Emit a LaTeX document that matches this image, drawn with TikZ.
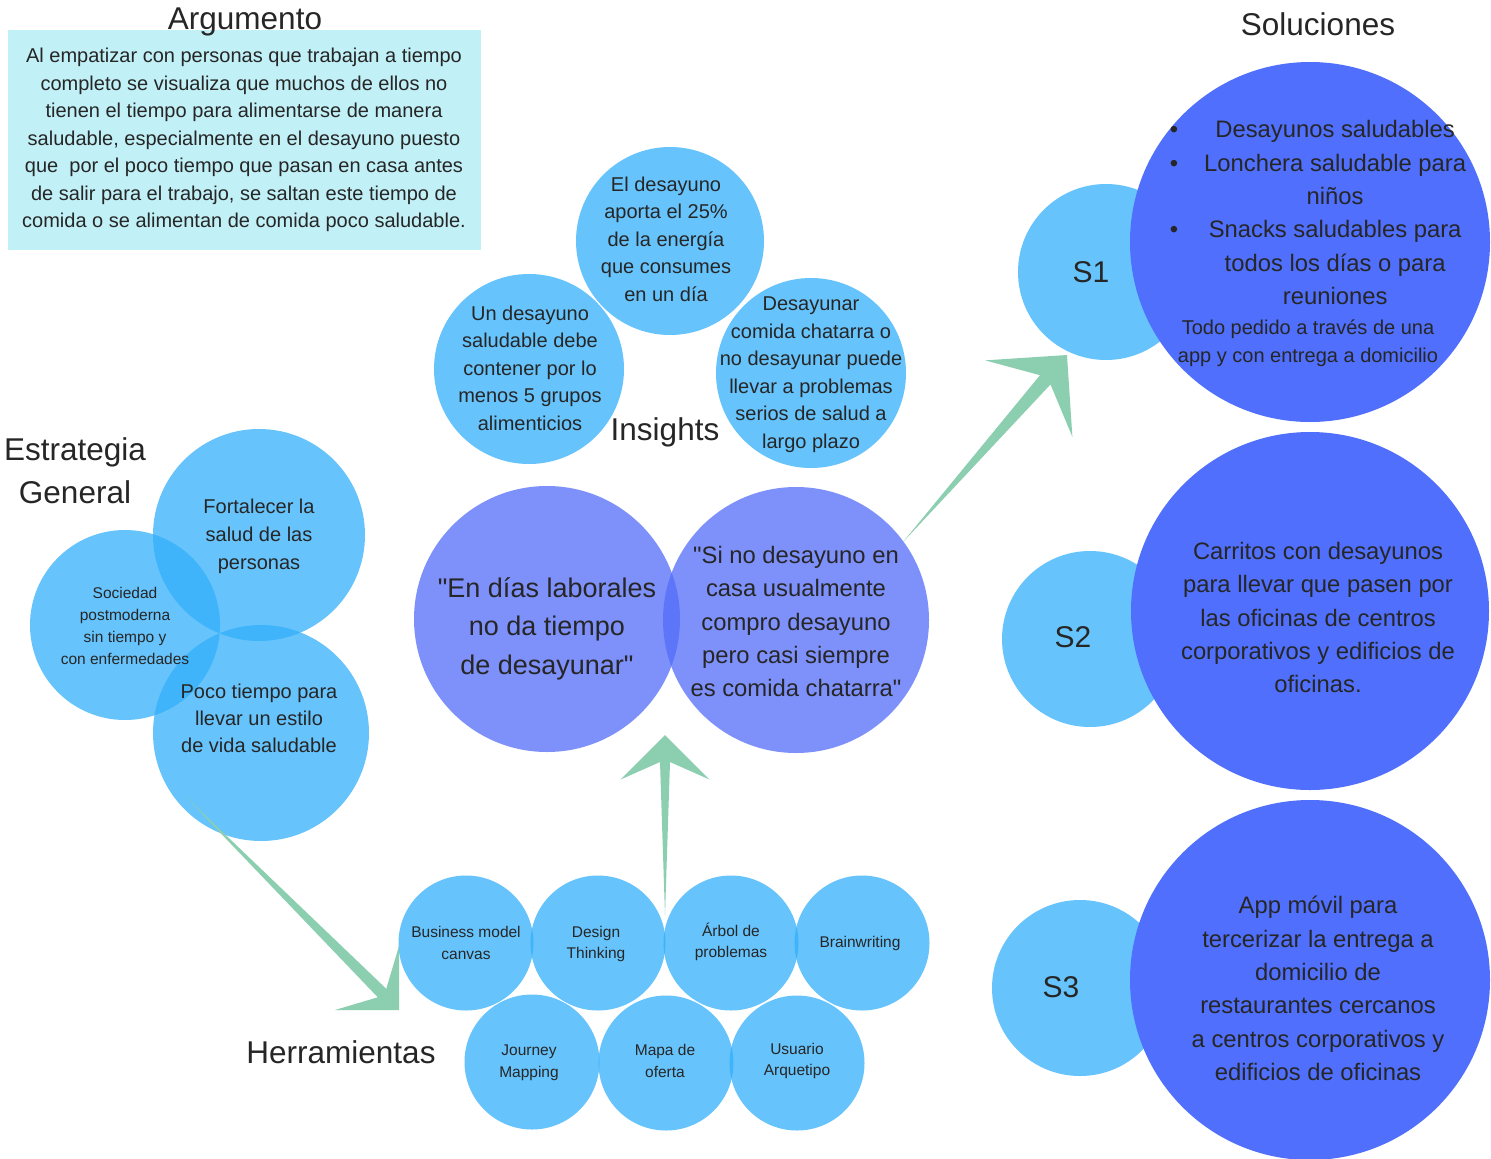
\documentclass[tikz,border=0pt]{standalone}
\usepackage{fontspec}
\setmainfont{Liberation Sans}[Ligatures=TeXOff]
\usetikzlibrary{calc}
\definecolor{lb}{RGB}{51,176,251}
\definecolor{pu}{RGB}{83,108,248}
\definecolor{db}{RGB}{79,111,252}
\definecolor{argbg}{RGB}{193,240,247}
\definecolor{arrowg}{RGB}{139,206,176}
\definecolor{tc}{RGB}{38,38,38}
\newcommand{\myfs}[2]{\fontsize{#1}{#2}\selectfont}
\newcommand{\taper}[5]{%
  \fill[arrowc] (#1) -- ($(#2)!#4!(#1)!#5!90:(#1)$) -- ($(#2)!#3!45:(#1)$) -- (#2)
    -- ($(#2)!#3!-45:(#1)$) -- ($(#2)!#4!(#1)!#5!-90:(#1)$) -- cycle;}
\begin{document}
\begin{tikzpicture}[x=1pt,y=-1pt,
  lc/.style={circle,fill=lb,fill opacity=0.75,draw=none,inner sep=0pt,minimum size=#1},
  pc/.style={circle,fill=pu,fill opacity=0.75,draw=none,inner sep=0pt,minimum size=#1},
  dc/.style={circle,fill=db,draw=none,inner sep=0pt,minimum size=#1},
  txt/.style={text=tc,align=center,inner sep=0pt},
  body/.style={txt,font=\myfs{20}{27.5}},
  small/.style={txt,font=\myfs{15.5}{21.7}},
  big/.style={txt,font=\myfs{23.8}{33.3}},
  ttl/.style={txt,font=\myfs{31.5}{43}},
  arrowc/.style={fill=arrowg,draw=none}]
\useasboundingbox (0,0) rectangle (1491,1159);
\fill[white] (0,0) rectangle (1491,1159);

% Argumento
\node[fill=argbg,draw=none,inner sep=0pt,minimum width=473pt,minimum height=220pt,anchor=north west] (argbox) at (8,30) {};
\node[ttl,anchor=base] (argtitle) at (245,29) {Argumento};
\node[body] (argtxt) at (244,140) {Al empatizar con personas que trabajan a tiempo\\completo se visualiza que muchos de ellos no\\tienen el tiempo para alimentarse de manera\\saludable, especialmente en el desayuno puesto\\que\ \ por el poco tiempo que pasan en casa antes\\de salir para el trabajo, se saltan este tiempo de\\comida o se alimentan de comida poco saludable.};

% Estrategia general
\node[lc=212pt] (fort) at (259,535) {};
\node[lc=190pt] (soc) at (125,625) {};
\node[lc=216pt] (poco) at (261,733) {};

% Insights
\node[lc=188pt] (ins1) at (670,241) {};
\node[lc=190pt] (ins2) at (529,369) {};
\node[lc=190pt] (ins3) at (811,373) {};

% central quotes
\node[pc=266pt] (pl) at (547,619) {};
\node[pc=266pt] (pr) at (796,620) {};

% Herramientas
\node[lc=135pt] (t1) at (466,943) {};
\node[lc=135pt] (t2) at (598,943) {};
\node[lc=135pt] (t3) at (731,943) {};
\node[lc=135pt] (t4) at (862,943) {};
\node[lc=135pt] (t5) at (532,1062) {};
\node[lc=135pt] (t6) at (666,1063) {};
\node[lc=135pt] (t7) at (797,1063) {};

% Soluciones
\node[lc=176pt] (s1) at (1106,272) {};
\node[dc=360pt] (s1b) at (1310,242) {};
\node[lc=176pt] (s2) at (1090,639) {};
\node[dc=358pt] (s2b) at (1310,611) {};
\node[lc=176pt] (s3) at (1080,988) {};
\node[dc=360pt] (s3b) at (1310,980) {};

% arrows
\coordinate (a1s) at (186,797);
\coordinate (a1t) at (399,1010);
\coordinate (a2s) at (665,915);
\coordinate (a2t) at (665,735);
\coordinate (a3s) at (903,542);
\coordinate (a3t) at (1067,355);
\taper{a1s}{a1t}{64pt}{24pt}{6pt}
\taper{a2s}{a2t}{63pt}{27pt}{5pt}
\taper{a3s}{a3t}{82pt}{33pt}{7pt}

% titles
\node[ttl] (esttitle) at (75,471) {Estrategia\\General};
\node[ttl] (institle) at (665,432) {Insights};
\node[ttl] (hertitle) at (341,1052) {Herramientas};
\node[ttl] (soltitle) at (1318,24) {Soluciones};

% texts
\node[body,font=\myfs{20}{28}] (fortt) at (259,536) {Fortalecer la\\salud de las\\personas};
\node[small,font=\myfs{15.5}{22}] (soct) at (125,626) {Sociedad\\postmoderna\\sin tiempo y\\con enfermedades};
\node[body,font=\myfs{20}{27}] (pocot) at (259,718) {Poco tiempo para\\llevar un estilo\\de vida saludable};

\node[body] (ins1t) at (666,239) {El desayuno\\aporta el 25\%\\de la energía\\que consumes\\en un día};
\node[body] (ins2t) at (530,368) {Un desayuno\\saludable debe\\contener por lo\\menos 5 grupos\\alimenticios};
\node[body] (ins3t) at (811,374.5) {Desayunar\\comida chatarra o\\no desayunar puede\\llevar a problemas\\serios de salud a\\largo plazo};

\node[txt,font=\myfs{27}{38.5}] (plt) at (547,628.5) {"En días laborales\\no da tiempo\\de desayunar"};
\node[big] (prt) at (796,621.5) {"Si no desayuno en\\casa usualmente\\compro desayuno\\pero casi siempre\\es comida chatarra"};

\node[small] (t1t) at (466,943) {Business model\\canvas};
\node[small] (t2t) at (596,944) {Design\\Thinking};
\node[small] (t3t) at (731,942) {Árbol de\\problemas};
\node[small] (t4t) at (860,943) {Brainwriting};
\node[small] (t5t) at (529,1063) {Journey\\Mapping};
\node[small] (t6t) at (665,1061) {Mapa de\\oferta};
\node[small] (t7t) at (797,1061) {Usuario\\Arquetipo};

\node[txt,font=\myfs{30}{36}] (s1t) at (1091,272) {S1};
\node[txt,font=\myfs{30}{36}] (s2t) at (1073,637) {S2};
\node[txt,font=\myfs{30}{36}] (s3t) at (1061,987) {S3};

\node[big] (s1list) at (1318,214.5) {\begin{tabular}{@{}c@{\hspace{26pt}}c@{}}
\textbullet & Desayunos saludables\\
\textbullet & Lonchera saludable para\\
 & niños\\
\textbullet & Snacks saludables para\\
 & todos los días o para\\
 & reuniones
\end{tabular}};
\node[body,font=\myfs{20}{28}] (s1note) at (1308,343) {Todo pedido a través de una\\app y con entrega a domicilio};
\node[big] (s2t2) at (1318,617.5) {Carritos con desayunos\\para llevar que pasen por\\las oficinas de centros\\corporativos y edificios de\\oficinas.};
\node[big] (s3t2) at (1318,988.5) {App móvil para\\tercerizar la entrega a\\domicilio de\\restaurantes cercanos\\a centros corporativos y\\edificios de oficinas};
\end{tikzpicture}
\end{document}
